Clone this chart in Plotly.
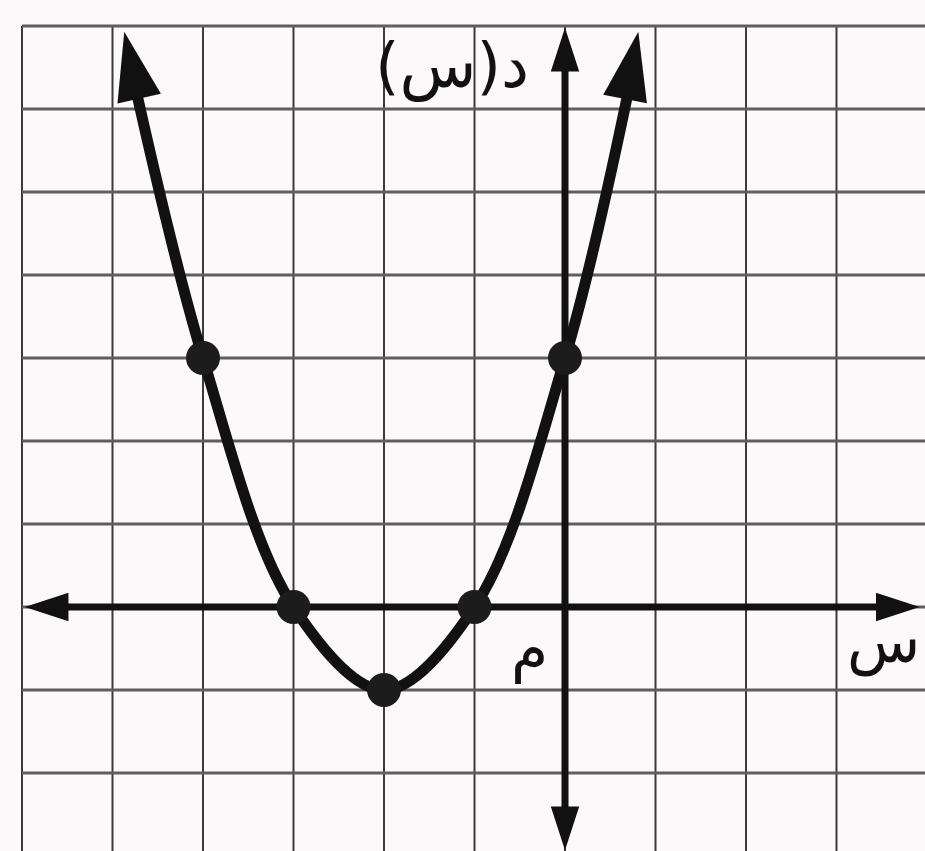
import plotly.graph_objects as go

# values (grid units)
dot_x = [-4, -3, -2, -1, 0]
dot_y = [3, 0, -1, 0, 3]

curve_x = [-4.80, -4, -3, -2, -1, 0, 0.76]
curve_y = [6.52, 3, 0, -1, 0, 3, 6.53]

# arrow tips of the curve and the point just behind each tip (gives direction)
curve_tip_x = [-4.87, 0.81]
curve_tip_y = [6.93, 6.93]
curve_back_x = [-4.70, 0.66]
curve_back_y = [6.10, 6.10]

x_axis_tips = [-5.97, 3.92]
y_axis_tips = [-2.93, 6.98]

grid_x = list(range(-6, 4))
grid_y = list(range(-2, 8))

labels = ["د(س)\u200f", "س", "م"]
label_x = [-1.25, 3.52, -0.39]
label_y = [6.52, -0.42, -0.50]

INK = "#111111"
FONT = "DejaVu Sans"

fig = go.Figure()

# grid
for gx in grid_x:
    fig.add_shape(type="line", x0=gx, x1=gx, y0=grid_y[-1], y1=grid_y[0] - 2,
                  line=dict(color="#3a3a3a", width=2), layer="below")
for gy in grid_y:
    fig.add_shape(type="line", x0=grid_x[0], x1=grid_x[-1] + 2, y0=gy, y1=gy,
                  line=dict(color="#5e5e5e", width=3), layer="below")

# axes lines
fig.add_trace(go.Scatter(x=[x_axis_tips[0] + 0.25, x_axis_tips[1] - 0.25], y=[0, 0],
                         mode="lines", line=dict(color=INK, width=7)))
fig.add_trace(go.Scatter(x=[0, 0], y=[y_axis_tips[0] + 0.25, y_axis_tips[1] - 0.25],
                         mode="lines", line=dict(color=INK, width=7)))

def arrow(xs, ys, size):
    return go.Scatter(x=xs, y=ys, mode="markers",
                      marker=dict(symbol="arrow", size=[0, size], color=INK, opacity=1,
                                  angleref="previous", line=dict(width=0)))

# axis arrowheads
for tip in x_axis_tips:
    fig.add_trace(arrow([0, tip], [0, 0], 46))
for tip in y_axis_tips:
    fig.add_trace(arrow([0, 0], [0, tip], 46))

# parabola
fig.add_trace(go.Scatter(x=curve_x, y=curve_y, mode="lines",
                         line=dict(color=INK, width=11, shape="spline", smoothing=1.0)))

for bx, by, tx, ty in zip(curve_back_x, curve_back_y, curve_tip_x, curve_tip_y):
    fig.add_trace(arrow([bx, tx], [by, ty], 72))

# points
fig.add_trace(go.Scatter(x=dot_x, y=dot_y, mode="markers",
                         marker=dict(size=34, color="#1c1c1c", line=dict(width=0))))

sizes = [63, 60, 60]
for txt, lx, ly, sz in zip(labels, label_x, label_y, sizes):
    fig.add_annotation(x=lx, y=ly, text=txt, showarrow=False,
                       font=dict(family=FONT, size=sz, color=INK))

fig.update_xaxes(range=[-565 / 90.5, 360 / 90.5], visible=False, fixedrange=True)
fig.update_yaxes(range=[-244 / 83, 607 / 83], visible=False, fixedrange=True)
fig.update_layout(width=925, height=851, margin=dict(l=0, r=0, t=0, b=0),
                  showlegend=False, paper_bgcolor="#fcf9fb", plot_bgcolor="#fcf9fb")

fig.write_html("out.html", config={"displayModeBar": False},
               post_script="document.body.style.margin='0';document.body.style.overflow='hidden';")
